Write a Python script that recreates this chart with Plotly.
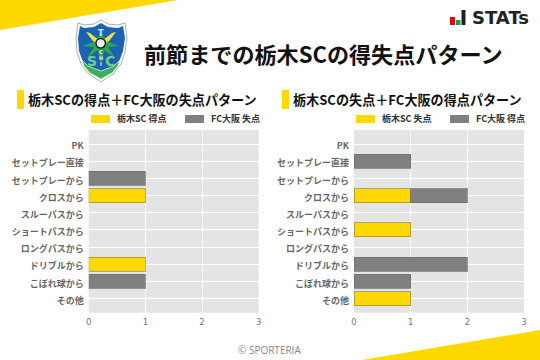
import plotly.graph_objects as go

W, H = 540, 360
categories = ["PK", "セットプレー直接", "セットプレーから", "クロスから", "スルーパスから",
              "ショートパスから", "ロングパスから", "ドリブルから", "こぼれ球から", "その他"]
left_yellow = [None, None, None, 1, None, None, None, 1, None, None]
left_gray = [None, None, 1, None, None, None, None, None, 1, None]
right_yellow = [None, None, None, 1, None, 1, None, None, None, 1]
right_gray = [None, 1, None, 1, None, None, None, 2, 1, None]
title = "前節までの栃木SCの得失点パターン"
left_title = "栃木SCの得点＋FC大阪の失点パターン"
right_title = "栃木SCの失点＋FC大阪の得点パターン"
left_legend = ["栃木SC 得点", "FC大阪 失点"]
right_legend = ["栃木SC 失点", "FC大阪 得点"]
x_ticks = [0, 1, 2, 3]

YEL = "#FFD800"
GRY = "#808080"
FONT = "Noto Sans CJK JP"

def px(x): return x / W
def py(y): return 1 - y / H

def poly(pts, color, line=None, lw=0):
    d = "M" + " L".join(f"{px(x):.5f},{py(y):.5f}" for x, y in pts) + " Z"
    return dict(type="path", xref="paper", yref="paper", path=d, fillcolor=color,
                line=dict(color=line or color, width=lw), layer="above")

def text(x, y, s, size, color="#111", anchor="left", weight=700, font=FONT):
    return dict(xref="paper", yref="paper", x=px(x), y=py(y), text=s, showarrow=False,
                xanchor=anchor, yanchor="middle", borderpad=0, borderwidth=0,
                font=dict(family=font, size=size, color=color, weight=weight))

fig = go.Figure()
for xa, ya, yv, gv, names in [("x", "y", left_yellow, left_gray, left_legend),
                              ("x2", "y2", right_yellow, right_gray, right_legend)]:
    fig.add_bar(x=yv, y=categories, orientation="h", xaxis=xa, yaxis=ya, name=names[0],
                marker=dict(color=YEL, line=dict(color="rgba(128,120,70,0.6)", width=1)),
                width=0.82, showlegend=False)
    fig.add_bar(x=gv, y=categories, orientation="h", xaxis=xa, yaxis=ya, name=names[1],
                marker=dict(color=GRY, line=dict(color="rgba(110,110,110,0.7)", width=1)),
                width=0.82, showlegend=False)

axx = dict(range=[0, 3], tickvals=x_ticks, showgrid=True, gridcolor="#FFFFFF", gridwidth=1,
           zeroline=False, showline=False, ticks="", ticklabelstandoff=3,
           tickfont=dict(family="DejaVu Sans", size=8.5, color="#777"))
axy = dict(type="category", categoryorder="array", categoryarray=categories,
           range=[9.82, -0.82], showgrid=True, gridcolor="#FFFFFF", gridwidth=1,
           zeroline=False, showline=False, ticks="", ticklabelstandoff=4, ticklabelshift=-2,
           tickfont=dict(family=FONT, size=9, color="#666", weight=700))

shapes = [
    poly([(0, 0), (178, 0), (0, 30)], YEL),
    poly([(362, 360), (540, 330), (540, 360)], YEL),
    poly([(17, 90), (24, 90), (24, 109), (17, 109)], YEL),
    poly([(282, 90), (289, 90), (289, 109), (282, 109)], YEL),
    poly([(91, 115), (110, 115), (110, 123), (91, 123)], YEL),
    poly([(185, 115), (204, 115), (204, 123), (185, 123)], GRY),
    poly([(356, 115), (375, 115), (375, 123), (356, 123)], YEL),
    poly([(450, 115), (469, 115), (469, 123), (450, 123)], GRY),
    # STATs mark
    poly([(450, 17), (455, 17), (455, 25), (450, 25)], "#E60012"),
    poly([(456, 20), (460.5, 20), (460.5, 25), (456, 25)], "#1E9E4A"),
    poly([(461.5, 10), (465.5, 10), (465.5, 25), (461.5, 25)], "#222222"),
    # crest: outer rim and shield
    poly([(101, 20), (108, 24), (118, 25), (125, 23), (127, 38), (125, 52), (121, 64), (113, 74),
          (101, 82), (89, 74), (81, 64), (77, 52), (76, 38), (78, 23), (84, 25), (94, 24)],
         "#FFFFFF", "#A6ADB8", 1),
    poly([(101, 23), (108, 27), (118, 28), (123, 26), (125, 38), (123, 51), (119, 62), (112, 72),
          (101, 79), (90, 72), (83, 62), (79, 51), (78, 38), (80, 26), (84, 28), (94, 27)],
         "#1B62B4"),
    # green sunburst
    poly([(101, 30), (104, 38), (114, 34), (108, 42), (120, 46), (108, 47), (115, 58), (104, 50),
          (101, 66), (98, 50), (87, 58), (94, 47), (82, 46), (94, 42), (88, 34), (98, 38)],
         "#2FA84F"),
    # wings
    poly([(101, 45), (93, 41), (86, 32), (90, 33), (96, 38), (101, 41)], "#E9E04A"),
    poly([(101, 45), (109, 41), (116, 32), (112, 33), (106, 38), (101, 41)], "#E9E04A"),
    # lower band
    poly([(82, 60), (88, 66), (101, 71), (114, 66), (120, 60), (118, 66), (112, 73), (101, 79),
          (90, 73), (84, 66)], "#3FAE5C", "#DDF0DD", 0.8),
]
shapes.append(dict(type="circle", xref="paper", yref="paper", x0=px(96), x1=px(105.5),
                   y0=py(48), y1=py(38.5), fillcolor="#EEE", line=dict(color="#222", width=1.5),
                   layer="above"))

annotations = [
    text(144, 52.5, title, 22.1),
    text(28, 99.5, left_title, 13.1),
    text(293, 99.5, right_title, 13.1),
    text(117, 119, left_legend[0], 9, "#333"),
    text(211, 119, left_legend[1], 9, "#333"),
    text(382, 119, right_legend[0], 9, "#333"),
    text(476, 119, right_legend[1], 9, "#333"),
    text(472, 17.5, "STATs", 18, "#222", font="DejaVu Sans"),
    text(269, 350, "© SPORTERIA", 10, "#888", anchor="center", weight=400, font="Open Sans"),
    text(92, 61, "S", 14, "#6FCF7F", anchor="center", font="DejaVu Sans"),
    text(110, 61, "C", 14, "#6FCF7F", anchor="center", font="DejaVu Sans"),
    text(101, 33, "T", 8, "#DDEEFF", anchor="center", font="DejaVu Sans"),
    text(101, 52, "C", 5, "#DDEEFF", anchor="center", font="DejaVu Sans"),
    text(101, 58, "H", 5, "#DDEEFF", anchor="center", font="DejaVu Sans"),
    text(101, 64, "I", 5, "#DDEEFF", anchor="center", font="DejaVu Sans"),
]

fig.update_layout(
    width=W, height=H, autosize=False, margin=dict(l=0, r=0, t=0, b=0, pad=0, autoexpand=False),
    paper_bgcolor="#FFFFFF", plot_bgcolor="#E4E4E4", barmode="stack",
    xaxis=dict(axx, domain=[88.7 / W, 258.7 / W], anchor="y"),
    xaxis2=dict(axx, domain=[354 / W, 524 / W], anchor="y2"),
    yaxis=dict(axy, domain=[1 - 312.7 / H, 1 - 130 / H], anchor="x"),
    yaxis2=dict(axy, domain=[1 - 312.7 / H, 1 - 130 / H], anchor="x2"),
    shapes=shapes, annotations=annotations, showlegend=False,
)
fig.write_html("out.html", config=dict(displayModeBar=False),
               post_script="document.body.style.margin='0';document.documentElement.style.overflow='hidden';")
